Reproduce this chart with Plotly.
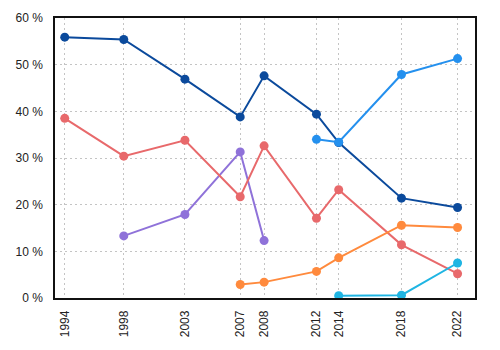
import plotly.graph_objects as go

election_dates = ["1994-09-12", "1998-11-30", "2003-04-14", "2007-03-26", "2008-12-08",
                  "2012-09-04", "2014-04-07", "2018-10-01", "2022-10-03"]
tick_labels = ["1994", "1998", "2003", "2007", "2008", "2012", "2014", "2018", "2022"]
y_ticks = [0, 10, 20, 30, 40, 50, 60]
y_tick_labels = [f"{v} %" for v in y_ticks]

s_darkblue_x = election_dates
s_darkblue_y = [55.9, 55.4, 46.9, 38.8, 47.6, 39.4, 33.3, 21.4, 19.4]

s_red_x = election_dates
s_red_y = [38.5, 30.4, 33.8, 21.7, 32.6, 17.1, 23.2, 11.4, 5.2]

s_purple_x = election_dates[1:5]
s_purple_y = [13.3, 17.9, 31.3, 12.3]

s_orange_x = election_dates[3:]
s_orange_y = [2.9, 3.4, 5.7, 8.6, 15.6, 15.1]

s_lightblue_x = election_dates[5:]
s_lightblue_y = [34.0, 33.4, 47.9, 51.3]

s_cyan_x = election_dates[6:]
s_cyan_y = [0.5, 0.6, 7.5]

series = [
    (s_purple_x, s_purple_y, "#8f72d9"),
    (s_red_x, s_red_y, "#e8696b"),
    (s_darkblue_x, s_darkblue_y, "#0b4a9c"),
    (s_orange_x, s_orange_y, "#ff8a3d"),
    (s_lightblue_x, s_lightblue_y, "#2490ee"),
    (s_cyan_x, s_cyan_y, "#1fb5e3"),
]

fig = go.Figure()
for xs, ys, c in series:
    fig.add_trace(go.Scatter(
        x=xs, y=ys, mode="lines+markers",
        line=dict(color=c, width=2),
        marker=dict(color=c, size=9),
        showlegend=False, hoverinfo="skip",
    ))

font = dict(family="Liberation Sans, Arial, sans-serif", size=12, color="#222")

fig.update_layout(
    width=500, height=350,
    margin=dict(l=55, r=25, t=18, b=52),
    paper_bgcolor="white", plot_bgcolor="white",
    font=font,
)
fig.update_xaxes(
    type="date",
    range=["1994-01-01", "2024-01-01"],
    tickvals=election_dates, ticktext=tick_labels, tickangle=-90,
    showgrid=True, gridcolor="#c4c4c4", griddash="2px,3px", gridwidth=1,
    showline=True, linecolor="#111", linewidth=1.5, mirror=True,
    ticks="outside", ticklen=6, tickcolor="rgba(0,0,0,0)", zeroline=False, tickfont=font,
)
fig.update_yaxes(
    range=[0, 60], tickvals=y_ticks, ticktext=y_tick_labels,
    showgrid=True, gridcolor="#c4c4c4", griddash="2px,3px", gridwidth=1,
    showline=True, linecolor="#111", linewidth=1.5, mirror=True,
    ticks="outside", ticklen=8, tickcolor="rgba(0,0,0,0)", zeroline=False, tickfont=font,
)

fig.write_html("out.html")
